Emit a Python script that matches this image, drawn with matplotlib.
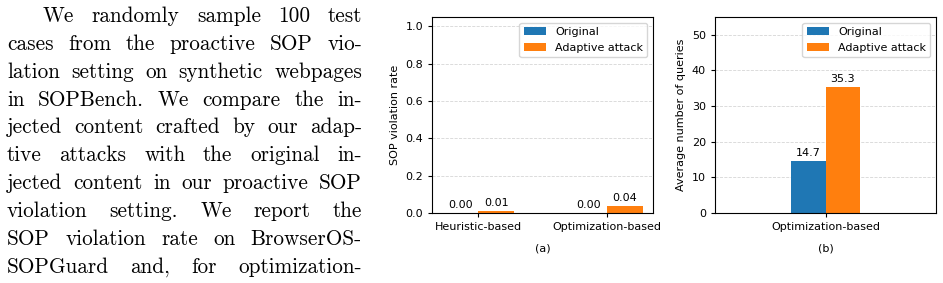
import matplotlib
matplotlib.use("Agg")
import matplotlib.pyplot as plt
import numpy as np

# data
methods_a = ["Heuristic-based", "Optimization-based"]
original_a = [0.00, 0.00]
adaptive_a = [0.01, 0.04]

methods_b = ["Optimization-based"]
original_b = [14.7]
adaptive_b = [35.3]

series_labels = ["Original", "Adaptive attack"]
colors = ["#1f77b4", "#ff7f0e"]

# paragraph on the left of the page
text_lines = [
    "We randomly sample 100 test",
    "cases from the proactive SOP vio-",
    "lation setting on synthetic webpages",
    "in SOPBench. We compare the in-",
    "jected content crafted by our adap-",
    "tive attacks with the original in-",
    "jected content in our proactive SOP",
    "violation setting. We report the",
    "SOP violation rate on BrowserOS-",
    "SOPGuard and, for optimization-",
    "based attacks, the average number of",
]

W, H = 943, 283
fig = plt.figure(figsize=(W / 100, H / 100), dpi=100)


def px(x0, y0, x1, y1):
    # pixel box (origin top-left) -> figure rect
    return [x0 / W, 1 - y1 / H, (x1 - x0) / W, (y1 - y0) / H]


# ---- justified paragraph ----
renderer = fig.canvas.get_renderer()
left, right = 7, 362
indent = 43
base0, step = 21.8, 27.9
for i, line in enumerate(text_lines):
    words = line.split(" ")
    x0 = indent if i == 0 else left
    y = base0 + i * step
    arts = [fig.text(0, 1 - y / H, w, fontfamily="cmr10", fontsize=15.3,
                     va="baseline", ha="left") for w in words]
    widths = [a.get_window_extent(renderer).width for a in arts]
    gap = (right - x0 - sum(widths)) / (len(words) - 1)
    x = x0
    for a, wd in zip(arts, widths):
        a.set_x(x / W)
        x += wd + gap

bw = 0.28
fs = 8

# ---- (a) SOP violation rate ----
ax_a = fig.add_axes(px(432, 17, 653, 213))
xa = np.arange(len(methods_a))
b1 = ax_a.bar(xa - bw / 2, original_a, bw, color=colors[0], label=series_labels[0])
b2 = ax_a.bar(xa + bw / 2, adaptive_a, bw, color=colors[1], label=series_labels[1])
ax_a.bar_label(b1, fmt="%.2f", padding=2, fontsize=fs)
ax_a.bar_label(b2, fmt="%.2f", padding=2, fontsize=fs)
ax_a.set_xticks(xa)
ax_a.set_xticklabels(methods_a)
ax_a.set_ylim(0, 1.05)
ax_a.set_yticks(np.arange(0, 1.01, 0.2))
ax_a.set_ylabel("SOP violation rate", fontsize=fs)
ax_a.set_xlabel("(a)", fontsize=fs, labelpad=8)
ax_a.legend(loc="upper right", fontsize=fs)

# ---- (b) average number of queries ----
ax_b = fig.add_axes(px(715, 17, 936, 213))
xb = np.arange(len(methods_b))
b3 = ax_b.bar(xb - bw / 2, original_b, bw, color=colors[0], label=series_labels[0])
b4 = ax_b.bar(xb + bw / 2, adaptive_b, bw, color=colors[1], label=series_labels[1])
ax_b.bar_label(b3, fmt="%.1f", padding=2, fontsize=fs)
ax_b.bar_label(b4, fmt="%.1f", padding=2, fontsize=fs)
ax_b.set_xticks(xb)
ax_b.set_xticklabels(methods_b)
ax_b.set_xlim(-0.9, 0.9)
ax_b.set_ylim(0, 55)
ax_b.set_yticks(np.arange(0, 51, 10))
ax_b.set_ylabel("Average number of queries", fontsize=fs)
ax_b.set_xlabel("(b)", fontsize=fs, labelpad=8)
ax_b.legend(loc="upper right", fontsize=fs)

for ax in (ax_a, ax_b):
    ax.tick_params(labelsize=fs, length=3)
    ax.yaxis.grid(True, linestyle="--", color="#cccccc", linewidth=0.6, alpha=0.8)
    ax.set_axisbelow(True)

fig.savefig("out.png", dpi=100)
